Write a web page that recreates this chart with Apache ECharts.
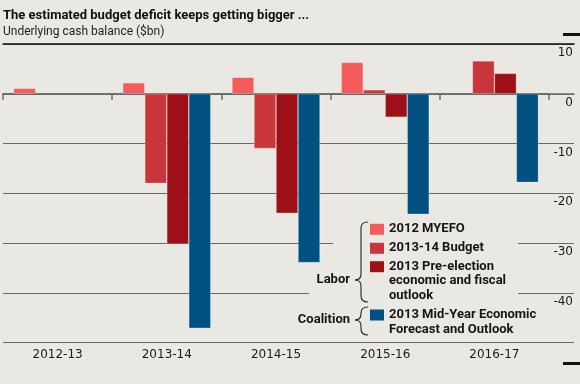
<!DOCTYPE html>
<html>
<head>
<meta charset="utf-8">
<script src="https://cdn.jsdelivr.net/npm/echarts@6/dist/echarts.min.js"></script>
<style>
html,body{margin:0;padding:0;background:#e9e8e2;}
#chart{width:580px;height:384px;}
</style>
</head>
<body>
<div id="chart"></div>
<script>
const categories = ['2012-13', '2013-14', '2014-15', '2015-16', '2016-17'];
const myefo2012 = [1.1, 2.2, 3.3, 6.3, null];
const budget1314 = [null, -18.0, -11.0, 0.8, 6.6];
const pefo2013 = [null, -30.2, -24.0, -4.7, 4.1];
const myefo2013 = [null, -47.1, -33.9, -24.2, -17.8];
const seriesNames = ['2012 MYEFO', '2013-14 Budget', '2013 Pre-election economic and fiscal outlook', '2013 Mid-Year Economic Forecast and Outlook'];
const legendLines = ['2012 MYEFO', '2013-14 Budget', '2013 Pre-election\neconomic and fiscal\noutlook', '2013 Mid-Year Economic\nForecast and Outlook'];
const colors = ['#f45b5b', '#c8363b', '#9d1017', '#005082'];
const yMin = -50, yMax = 10, yStep = 10;

const FONT = 'Roboto, "Noto Sans", sans-serif';
const AXFONT = '"DejaVu Sans", sans-serif';
const chart = echarts.init(document.getElementById('chart'), null, {renderer: 'canvas'});

const seriesData = [myefo2012, budget1314, pefo2013, myefo2013];
const series = seriesData.map((d, i) => ({
  name: seriesNames[i],
  type: 'bar',
  xAxisIndex: 2,
  yAxisIndex: 1,
  data: d,
  barWidth: 22,
  barGap: '0%',
  itemStyle: {color: colors[i], borderColor: 'rgba(255,255,255,0.45)', borderWidth: 0.6},
  z: 3
}));

const legendY = [229.3, 248.3, 266.7, 315];
const graphics = [];
const BRACE = {fill: 'none', stroke: '#222', lineWidth: 1.1};
function brace(top, mid, bottom) {
  const xr = 368, xm = 361, xt = 355, r = 6;
  return [
    {type: 'bezierCurve', shape: {x1: xr, y1: top, x2: xm, y2: top + r, cpx1: xm, cpy1: top}, style: BRACE, z: 5},
    {type: 'line', shape: {x1: xm, y1: top + r, x2: xm, y2: mid - r}, style: BRACE, z: 5},
    {type: 'bezierCurve', shape: {x1: xm, y1: mid - r, x2: xt, y2: mid, cpx1: xm, cpy1: mid}, style: BRACE, z: 5},
    {type: 'bezierCurve', shape: {x1: xt, y1: mid, x2: xm, y2: mid + r, cpx1: xm, cpy1: mid}, style: BRACE, z: 5},
    {type: 'line', shape: {x1: xm, y1: mid + r, x2: xm, y2: bottom - r}, style: BRACE, z: 5},
    {type: 'bezierCurve', shape: {x1: xm, y1: bottom - r, x2: xr, y2: bottom, cpx1: xm, cpy1: bottom}, style: BRACE, z: 5}
  ];
}
// occluding panels behind the legend
graphics.push({type: 'rect', shape: {x: 333, y: 216, width: 185, height: 60}, style: {fill: '#e9e8e2'}, z: 1});
graphics.push({type: 'rect', shape: {x: 309, y: 276, width: 209, height: 64}, style: {fill: '#e9e8e2'}, z: 1});
legendLines.forEach((t, i) => {
  graphics.push({type: 'rect', shape: {x: 370, y: legendY[i] - 5.5, width: 14, height: 11}, style: {fill: colors[i]}, z: 5});
  graphics.push({type: 'text', x: 389, y: legendY[i] - 7.5, style: {text: t, font: 'bold 13px ' + FONT, fill: '#151515', lineHeight: 14.5, verticalAlign: 'top'}, z: 5});
});
graphics.push({type: 'text', x: 350, y: 280, style: {text: 'Labor', font: 'bold 13px ' + FONT, fill: '#151515', align: 'right', verticalAlign: 'middle'}, z: 5});
graphics.push({type: 'text', x: 350, y: 320, style: {text: 'Coalition', font: 'bold 13px ' + FONT, fill: '#151515', align: 'right', verticalAlign: 'middle'}, z: 5});
graphics.push(...brace(222, 280, 302));
graphics.push(...brace(307, 320, 335));
// decorative marks at the right edge
graphics.push({type: 'rect', shape: {x: 563, y: 33, width: 17, height: 3}, style: {fill: '#111'}, z: 5});
graphics.push({type: 'rect', shape: {x: 563, y: 362, width: 17, height: 3}, style: {fill: '#111'}, z: 5});
// title and subtitle
graphics.push({type: 'text', x: 3, y: 15.5, style: {text: 'The estimated budget deficit keeps getting bigger ...', font: 'bold 13px ' + FONT, fill: '#111', verticalAlign: 'middle'}, z: 5});
graphics.push({type: 'text', x: 3, y: 32, style: {text: 'Underlying cash balance ($bn)', font: '12px ' + FONT, fill: '#222', verticalAlign: 'middle'}, z: 5});

const option = {
  backgroundColor: '#e9e8e2',
  animation: false,
  grid: [
    {left: 3, right: 6, top: 44, bottom: 41.3, containLabel: false},
    {left: 3, right: 31, top: 44, bottom: 41.3, containLabel: false}
  ],
  xAxis: [
    {gridIndex: 0, type: 'value', min: 0, max: 1, position: 'bottom',
     axisLine: {show: true, lineStyle: {color: '#6a6a6a', width: 1.5}},
     axisTick: {show: false}, axisLabel: {show: false}, splitLine: {show: false}},
    {gridIndex: 0, type: 'value', min: 0, max: 1, position: 'top',
     axisLine: {show: true, lineStyle: {color: '#111', width: 1.5}},
     axisTick: {show: false}, axisLabel: {show: false}, splitLine: {show: false}},
    {gridIndex: 1, type: 'category', data: categories, position: 'bottom',
     axisLine: {show: true, lineStyle: {color: '#6a6a6a', width: 1.5}},
     axisTick: {show: true, length: 6, lineStyle: {color: '#6a6a6a', width: 1.5}},
     axisLabel: {fontFamily: AXFONT, fontSize: 12, color: '#1a1a1a', margin: 6},
     splitLine: {show: false}}
  ],
  yAxis: [
    {gridIndex: 0, type: 'value', min: yMin, max: yMax, interval: yStep, position: 'right',
     axisLine: {show: false}, axisTick: {show: false},
     axisLabel: {inside: true, margin: 1, fontFamily: AXFONT, fontSize: 12, color: '#1a1a1a',
       verticalAlign: 'top', padding: [3, 0, 0, 0],
       formatter: v => (v === yMin ? '' : String(v))},
     splitLine: {show: true, lineStyle: {color: '#6a6a6a', width: 1.2}}},
    {gridIndex: 1, type: 'value', min: yMin, max: yMax, interval: yStep, show: false}
  ],
  graphic: graphics,
  series: series
};
chart.setOption(option);
</script>
</body>
</html>
